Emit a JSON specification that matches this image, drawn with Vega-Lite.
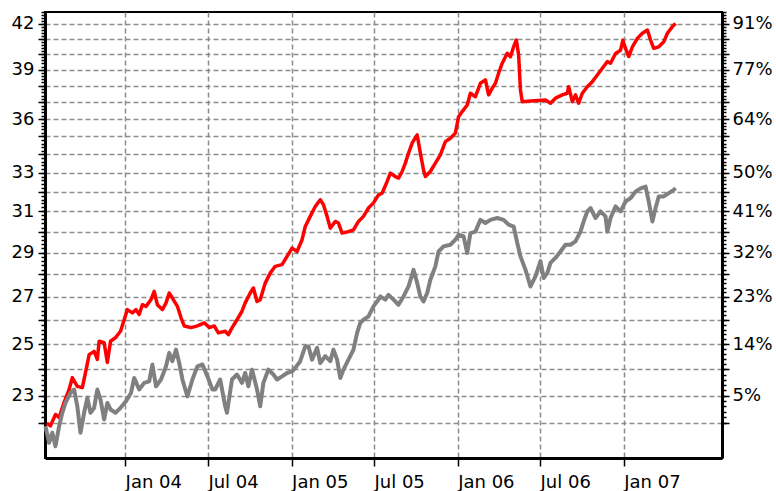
{
  "$schema": "https://vega.github.io/schema/vega-lite/v6.json",
  "width": 677,
  "height": 446,
  "autosize": "none",
  "padding": {"left": 45, "top": 12, "right": 54, "bottom": 33},
  "config": {
    "font": "DejaVu Sans",
    "view": {"stroke": "#000000", "strokeWidth": 2},
    "axis": {
      "labelFont": "DejaVu Sans",
      "labelFontSize": 18,
      "labelColor": "#000000",
      "tickColor": "#000000",
      "tickWidth": 1.5,
      "domainColor": "#000000",
      "domainWidth": 3,
      "gridColor": "#8c8c8c",
      "gridDash": [5, 3],
      "gridWidth": 1.5,
      "labelOverlap": false,
      "labelFlush": false,
      "title": null
    }
  },
  "data": {
    "values": [
      {"d": "2003-07-13", "s": "r", "v": 22.0},
      {"d": "2003-07-21", "s": "r", "v": 21.9},
      {"d": "2003-08-01", "s": "r", "v": 22.31},
      {"d": "2003-08-09", "s": "r", "v": 22.2},
      {"d": "2003-08-20", "s": "r", "v": 22.75},
      {"d": "2003-08-31", "s": "r", "v": 23.23},
      {"d": "2003-09-07", "s": "r", "v": 23.68},
      {"d": "2003-09-18", "s": "r", "v": 23.35},
      {"d": "2003-09-29", "s": "r", "v": 23.3},
      {"d": "2003-10-06", "s": "r", "v": 23.87},
      {"d": "2003-10-14", "s": "r", "v": 24.58},
      {"d": "2003-10-25", "s": "r", "v": 24.71},
      {"d": "2003-11-01", "s": "r", "v": 24.39},
      {"d": "2003-11-05", "s": "r", "v": 25.12},
      {"d": "2003-11-16", "s": "r", "v": 25.06},
      {"d": "2003-11-23", "s": "r", "v": 24.27},
      {"d": "2003-11-30", "s": "r", "v": 25.12},
      {"d": "2003-12-11", "s": "r", "v": 25.27},
      {"d": "2003-12-22", "s": "r", "v": 25.53},
      {"d": "2003-12-30", "s": "r", "v": 26.01},
      {"d": "2004-01-06", "s": "r", "v": 26.44},
      {"d": "2004-01-17", "s": "r", "v": 26.3},
      {"d": "2004-01-25", "s": "r", "v": 26.44},
      {"d": "2004-02-01", "s": "r", "v": 26.23},
      {"d": "2004-02-08", "s": "r", "v": 26.65},
      {"d": "2004-02-16", "s": "r", "v": 26.58},
      {"d": "2004-02-27", "s": "r", "v": 26.87},
      {"d": "2004-03-05", "s": "r", "v": 27.23},
      {"d": "2004-03-12", "s": "r", "v": 26.65},
      {"d": "2004-03-23", "s": "r", "v": 26.44},
      {"d": "2004-03-31", "s": "r", "v": 26.73},
      {"d": "2004-04-07", "s": "r", "v": 27.16},
      {"d": "2004-04-14", "s": "r", "v": 26.94},
      {"d": "2004-04-25", "s": "r", "v": 26.58},
      {"d": "2004-05-03", "s": "r", "v": 26.09},
      {"d": "2004-05-10", "s": "r", "v": 25.75},
      {"d": "2004-05-25", "s": "r", "v": 25.68},
      {"d": "2004-06-08", "s": "r", "v": 25.75},
      {"d": "2004-06-23", "s": "r", "v": 25.88},
      {"d": "2004-07-04", "s": "r", "v": 25.68},
      {"d": "2004-07-15", "s": "r", "v": 25.75},
      {"d": "2004-07-24", "s": "r", "v": 25.46},
      {"d": "2004-08-08", "s": "r", "v": 25.53},
      {"d": "2004-08-15", "s": "r", "v": 25.39},
      {"d": "2004-08-23", "s": "r", "v": 25.67},
      {"d": "2004-09-03", "s": "r", "v": 26.01},
      {"d": "2004-09-14", "s": "r", "v": 26.37},
      {"d": "2004-09-21", "s": "r", "v": 26.73},
      {"d": "2004-10-02", "s": "r", "v": 27.16},
      {"d": "2004-10-09", "s": "r", "v": 27.38},
      {"d": "2004-10-17", "s": "r", "v": 26.79},
      {"d": "2004-10-24", "s": "r", "v": 26.87},
      {"d": "2004-11-04", "s": "r", "v": 27.6},
      {"d": "2004-11-15", "s": "r", "v": 28.05},
      {"d": "2004-11-26", "s": "r", "v": 28.36},
      {"d": "2004-12-11", "s": "r", "v": 28.44},
      {"d": "2004-12-22", "s": "r", "v": 28.82},
      {"d": "2005-01-02", "s": "r", "v": 29.21},
      {"d": "2005-01-13", "s": "r", "v": 29.05},
      {"d": "2005-01-24", "s": "r", "v": 29.61},
      {"d": "2005-01-31", "s": "r", "v": 30.25},
      {"d": "2005-02-11", "s": "r", "v": 30.75},
      {"d": "2005-02-22", "s": "r", "v": 31.25},
      {"d": "2005-03-05", "s": "r", "v": 31.59},
      {"d": "2005-03-12", "s": "r", "v": 31.34},
      {"d": "2005-03-20", "s": "r", "v": 30.75},
      {"d": "2005-03-27", "s": "r", "v": 30.17},
      {"d": "2005-04-07", "s": "r", "v": 30.5},
      {"d": "2005-04-14", "s": "r", "v": 30.42},
      {"d": "2005-04-22", "s": "r", "v": 29.93},
      {"d": "2005-05-06", "s": "r", "v": 30.0},
      {"d": "2005-05-17", "s": "r", "v": 30.09},
      {"d": "2005-05-28", "s": "r", "v": 30.5},
      {"d": "2005-06-08", "s": "r", "v": 30.75},
      {"d": "2005-06-19", "s": "r", "v": 31.17},
      {"d": "2005-06-30", "s": "r", "v": 31.43},
      {"d": "2005-07-11", "s": "r", "v": 31.84},
      {"d": "2005-07-19", "s": "r", "v": 31.93},
      {"d": "2005-07-30", "s": "r", "v": 32.54},
      {"d": "2005-08-06", "s": "r", "v": 32.98},
      {"d": "2005-08-17", "s": "r", "v": 32.8},
      {"d": "2005-08-24", "s": "r", "v": 32.72},
      {"d": "2005-09-01", "s": "r", "v": 33.07},
      {"d": "2005-09-08", "s": "r", "v": 33.52},
      {"d": "2005-09-15", "s": "r", "v": 34.07},
      {"d": "2005-09-23", "s": "r", "v": 34.63},
      {"d": "2005-10-04", "s": "r", "v": 35.09},
      {"d": "2005-10-11", "s": "r", "v": 34.07},
      {"d": "2005-10-18", "s": "r", "v": 33.15},
      {"d": "2005-10-22", "s": "r", "v": 32.8},
      {"d": "2005-11-02", "s": "r", "v": 33.07},
      {"d": "2005-11-13", "s": "r", "v": 33.52},
      {"d": "2005-11-24", "s": "r", "v": 33.97},
      {"d": "2005-12-05", "s": "r", "v": 34.71},
      {"d": "2005-12-16", "s": "r", "v": 34.9},
      {"d": "2005-12-27", "s": "r", "v": 35.19},
      {"d": "2006-01-03", "s": "r", "v": 36.14},
      {"d": "2006-01-11", "s": "r", "v": 36.44},
      {"d": "2006-01-22", "s": "r", "v": 36.83},
      {"d": "2006-01-29", "s": "r", "v": 37.54},
      {"d": "2006-02-09", "s": "r", "v": 37.33},
      {"d": "2006-02-20", "s": "r", "v": 38.15},
      {"d": "2006-03-03", "s": "r", "v": 38.36},
      {"d": "2006-03-10", "s": "r", "v": 37.44},
      {"d": "2006-03-18", "s": "r", "v": 37.85},
      {"d": "2006-03-25", "s": "r", "v": 38.15},
      {"d": "2006-04-01", "s": "r", "v": 38.78},
      {"d": "2006-04-09", "s": "r", "v": 39.41},
      {"d": "2006-04-20", "s": "r", "v": 40.05},
      {"d": "2006-04-27", "s": "r", "v": 39.83},
      {"d": "2006-05-04", "s": "r", "v": 40.48},
      {"d": "2006-05-10", "s": "r", "v": 40.92},
      {"d": "2006-05-15", "s": "r", "v": 39.94},
      {"d": "2006-05-19", "s": "r", "v": 37.74},
      {"d": "2006-05-23", "s": "r", "v": 37.03},
      {"d": "2006-06-10", "s": "r", "v": 37.07},
      {"d": "2006-07-13", "s": "r", "v": 37.13},
      {"d": "2006-07-24", "s": "r", "v": 36.94},
      {"d": "2006-08-04", "s": "r", "v": 37.24},
      {"d": "2006-08-19", "s": "r", "v": 37.44},
      {"d": "2006-08-30", "s": "r", "v": 37.54},
      {"d": "2006-09-02", "s": "r", "v": 37.94},
      {"d": "2006-09-10", "s": "r", "v": 37.03},
      {"d": "2006-09-17", "s": "r", "v": 37.44},
      {"d": "2006-09-24", "s": "r", "v": 36.94},
      {"d": "2006-10-02", "s": "r", "v": 37.54},
      {"d": "2006-10-13", "s": "r", "v": 37.94},
      {"d": "2006-10-24", "s": "r", "v": 38.25},
      {"d": "2006-11-04", "s": "r", "v": 38.67},
      {"d": "2006-11-15", "s": "r", "v": 39.09},
      {"d": "2006-11-26", "s": "r", "v": 39.51},
      {"d": "2006-12-03", "s": "r", "v": 39.41},
      {"d": "2006-12-14", "s": "r", "v": 40.04},
      {"d": "2006-12-25", "s": "r", "v": 40.25},
      {"d": "2006-12-30", "s": "r", "v": 40.9},
      {"d": "2007-01-05", "s": "r", "v": 40.36},
      {"d": "2007-01-12", "s": "r", "v": 39.84},
      {"d": "2007-01-20", "s": "r", "v": 40.47},
      {"d": "2007-01-31", "s": "r", "v": 41.03},
      {"d": "2007-02-11", "s": "r", "v": 41.37},
      {"d": "2007-02-22", "s": "r", "v": 41.59},
      {"d": "2007-03-01", "s": "r", "v": 40.92},
      {"d": "2007-03-08", "s": "r", "v": 40.37},
      {"d": "2007-03-19", "s": "r", "v": 40.47},
      {"d": "2007-03-30", "s": "r", "v": 40.8},
      {"d": "2007-04-07", "s": "r", "v": 41.37},
      {"d": "2007-04-18", "s": "r", "v": 41.82},
      {"d": "2007-04-25", "s": "r", "v": 42.03},
      {"d": "2003-07-10", "s": "g", "v": 21.89},
      {"d": "2003-07-18", "s": "g", "v": 21.31},
      {"d": "2003-07-25", "s": "g", "v": 21.66},
      {"d": "2003-08-01", "s": "g", "v": 21.19},
      {"d": "2003-08-09", "s": "g", "v": 21.89},
      {"d": "2003-08-16", "s": "g", "v": 22.37},
      {"d": "2003-08-23", "s": "g", "v": 22.73},
      {"d": "2003-09-03", "s": "g", "v": 23.1},
      {"d": "2003-09-11", "s": "g", "v": 23.23},
      {"d": "2003-09-18", "s": "g", "v": 22.61},
      {"d": "2003-09-25", "s": "g", "v": 21.66},
      {"d": "2003-10-03", "s": "g", "v": 22.37},
      {"d": "2003-10-10", "s": "g", "v": 22.92},
      {"d": "2003-10-17", "s": "g", "v": 22.37},
      {"d": "2003-10-25", "s": "g", "v": 22.55},
      {"d": "2003-11-01", "s": "g", "v": 23.23},
      {"d": "2003-11-08", "s": "g", "v": 22.85},
      {"d": "2003-11-16", "s": "g", "v": 22.13},
      {"d": "2003-11-23", "s": "g", "v": 22.73},
      {"d": "2003-11-30", "s": "g", "v": 22.49},
      {"d": "2003-12-11", "s": "g", "v": 22.37},
      {"d": "2003-12-22", "s": "g", "v": 22.55},
      {"d": "2004-01-03", "s": "g", "v": 22.79},
      {"d": "2004-01-14", "s": "g", "v": 23.1},
      {"d": "2004-01-21", "s": "g", "v": 23.67},
      {"d": "2004-02-01", "s": "g", "v": 23.23},
      {"d": "2004-02-12", "s": "g", "v": 23.48},
      {"d": "2004-02-23", "s": "g", "v": 23.54},
      {"d": "2004-03-01", "s": "g", "v": 24.19},
      {"d": "2004-03-09", "s": "g", "v": 23.35},
      {"d": "2004-03-20", "s": "g", "v": 23.61},
      {"d": "2004-03-31", "s": "g", "v": 24.12},
      {"d": "2004-04-07", "s": "g", "v": 24.65},
      {"d": "2004-04-14", "s": "g", "v": 24.32},
      {"d": "2004-04-22", "s": "g", "v": 24.78},
      {"d": "2004-04-29", "s": "g", "v": 24.25},
      {"d": "2004-05-06", "s": "g", "v": 23.61},
      {"d": "2004-05-17", "s": "g", "v": 22.97},
      {"d": "2004-05-28", "s": "g", "v": 23.61},
      {"d": "2004-06-08", "s": "g", "v": 24.12},
      {"d": "2004-06-19", "s": "g", "v": 24.19},
      {"d": "2004-06-30", "s": "g", "v": 23.73},
      {"d": "2004-07-11", "s": "g", "v": 23.23},
      {"d": "2004-07-17", "s": "g", "v": 23.23},
      {"d": "2004-07-28", "s": "g", "v": 23.61},
      {"d": "2004-08-08", "s": "g", "v": 22.61},
      {"d": "2004-08-12", "s": "g", "v": 22.37},
      {"d": "2004-08-23", "s": "g", "v": 23.61},
      {"d": "2004-09-03", "s": "g", "v": 23.8},
      {"d": "2004-09-14", "s": "g", "v": 23.48},
      {"d": "2004-09-21", "s": "g", "v": 23.86},
      {"d": "2004-09-28", "s": "g", "v": 23.35},
      {"d": "2004-10-06", "s": "g", "v": 23.99},
      {"d": "2004-10-17", "s": "g", "v": 23.23},
      {"d": "2004-10-24", "s": "g", "v": 22.61},
      {"d": "2004-10-31", "s": "g", "v": 23.48},
      {"d": "2004-11-11", "s": "g", "v": 23.99},
      {"d": "2004-11-22", "s": "g", "v": 23.8},
      {"d": "2004-11-30", "s": "g", "v": 23.61},
      {"d": "2004-12-11", "s": "g", "v": 23.73},
      {"d": "2004-12-22", "s": "g", "v": 23.86},
      {"d": "2005-01-02", "s": "g", "v": 23.92},
      {"d": "2005-01-09", "s": "g", "v": 24.06},
      {"d": "2005-01-20", "s": "g", "v": 24.32},
      {"d": "2005-01-31", "s": "g", "v": 24.91},
      {"d": "2005-02-07", "s": "g", "v": 24.91},
      {"d": "2005-02-15", "s": "g", "v": 24.38},
      {"d": "2005-02-26", "s": "g", "v": 24.85},
      {"d": "2005-03-05", "s": "g", "v": 24.25},
      {"d": "2005-03-16", "s": "g", "v": 24.52},
      {"d": "2005-03-27", "s": "g", "v": 24.32},
      {"d": "2005-04-03", "s": "g", "v": 24.78},
      {"d": "2005-04-11", "s": "g", "v": 24.38},
      {"d": "2005-04-18", "s": "g", "v": 23.67},
      {"d": "2005-04-25", "s": "g", "v": 23.99},
      {"d": "2005-05-06", "s": "g", "v": 24.38},
      {"d": "2005-05-17", "s": "g", "v": 24.78},
      {"d": "2005-05-25", "s": "g", "v": 25.46},
      {"d": "2005-06-01", "s": "g", "v": 25.88},
      {"d": "2005-06-08", "s": "g", "v": 26.01},
      {"d": "2005-06-19", "s": "g", "v": 26.15},
      {"d": "2005-06-30", "s": "g", "v": 26.58},
      {"d": "2005-07-11", "s": "g", "v": 26.87},
      {"d": "2005-07-15", "s": "g", "v": 27.01},
      {"d": "2005-07-26", "s": "g", "v": 26.87},
      {"d": "2005-08-02", "s": "g", "v": 27.08},
      {"d": "2005-08-13", "s": "g", "v": 26.87},
      {"d": "2005-08-24", "s": "g", "v": 26.65},
      {"d": "2005-09-04", "s": "g", "v": 27.01},
      {"d": "2005-09-15", "s": "g", "v": 27.45},
      {"d": "2005-09-26", "s": "g", "v": 28.2},
      {"d": "2005-10-04", "s": "g", "v": 27.61},
      {"d": "2005-10-11", "s": "g", "v": 27.01},
      {"d": "2005-10-18", "s": "g", "v": 26.79},
      {"d": "2005-10-26", "s": "g", "v": 27.16},
      {"d": "2005-11-02", "s": "g", "v": 27.75},
      {"d": "2005-11-13", "s": "g", "v": 28.36},
      {"d": "2005-11-20", "s": "g", "v": 29.05},
      {"d": "2005-12-01", "s": "g", "v": 29.29},
      {"d": "2005-12-16", "s": "g", "v": 29.37},
      {"d": "2005-12-27", "s": "g", "v": 29.61},
      {"d": "2006-01-03", "s": "g", "v": 29.85},
      {"d": "2006-01-14", "s": "g", "v": 29.77},
      {"d": "2006-01-22", "s": "g", "v": 28.98},
      {"d": "2006-01-29", "s": "g", "v": 29.93},
      {"d": "2006-02-09", "s": "g", "v": 30.0},
      {"d": "2006-02-20", "s": "g", "v": 30.58},
      {"d": "2006-03-03", "s": "g", "v": 30.42},
      {"d": "2006-03-14", "s": "g", "v": 30.58},
      {"d": "2006-03-29", "s": "g", "v": 30.67},
      {"d": "2006-04-12", "s": "g", "v": 30.58},
      {"d": "2006-04-23", "s": "g", "v": 30.34},
      {"d": "2006-05-04", "s": "g", "v": 30.25},
      {"d": "2006-05-12", "s": "g", "v": 29.45},
      {"d": "2006-05-19", "s": "g", "v": 28.82},
      {"d": "2006-05-30", "s": "g", "v": 28.21},
      {"d": "2006-06-10", "s": "g", "v": 27.45},
      {"d": "2006-06-21", "s": "g", "v": 27.9},
      {"d": "2006-07-02", "s": "g", "v": 28.6},
      {"d": "2006-07-09", "s": "g", "v": 27.83},
      {"d": "2006-07-17", "s": "g", "v": 28.05},
      {"d": "2006-07-24", "s": "g", "v": 28.52},
      {"d": "2006-08-04", "s": "g", "v": 28.75},
      {"d": "2006-08-15", "s": "g", "v": 29.05},
      {"d": "2006-08-26", "s": "g", "v": 29.37},
      {"d": "2006-09-06", "s": "g", "v": 29.37},
      {"d": "2006-09-17", "s": "g", "v": 29.53},
      {"d": "2006-09-28", "s": "g", "v": 30.0},
      {"d": "2006-10-05", "s": "g", "v": 30.5},
      {"d": "2006-10-13", "s": "g", "v": 31.0},
      {"d": "2006-10-20", "s": "g", "v": 31.17},
      {"d": "2006-10-31", "s": "g", "v": 30.67},
      {"d": "2006-11-11", "s": "g", "v": 31.0},
      {"d": "2006-11-22", "s": "g", "v": 30.75},
      {"d": "2006-11-26", "s": "g", "v": 30.0},
      {"d": "2006-12-03", "s": "g", "v": 30.67},
      {"d": "2006-12-14", "s": "g", "v": 31.25},
      {"d": "2006-12-25", "s": "g", "v": 31.0},
      {"d": "2007-01-05", "s": "g", "v": 31.5},
      {"d": "2007-01-16", "s": "g", "v": 31.67},
      {"d": "2007-01-27", "s": "g", "v": 32.01},
      {"d": "2007-02-07", "s": "g", "v": 32.18},
      {"d": "2007-02-18", "s": "g", "v": 32.27},
      {"d": "2007-02-25", "s": "g", "v": 31.5},
      {"d": "2007-03-05", "s": "g", "v": 30.5},
      {"d": "2007-03-12", "s": "g", "v": 31.17},
      {"d": "2007-03-19", "s": "g", "v": 31.76},
      {"d": "2007-03-30", "s": "g", "v": 31.76},
      {"d": "2007-04-10", "s": "g", "v": 31.93},
      {"d": "2007-04-21", "s": "g", "v": 32.1},
      {"d": "2007-04-25", "s": "g", "v": 32.19}
    ]
  },
  "layer": [
    {
      "mark": {"type": "line", "strokeJoin": "round"},
      "encoding": {
        "x": {
          "field": "d",
          "type": "temporal",
          "scale": {
            "type": "utc",
            "domain": [
              {"year": 2003, "month": 7, "date": 9, "utc": true},
              {"year": 2007, "month": 8, "date": 5, "utc": true}
            ]
          },
          "axis": {
            "values": [
              {"year": 2004, "month": 1, "date": 1, "utc": true},
              {"year": 2004, "month": 7, "date": 1, "utc": true},
              {"year": 2005, "month": 1, "date": 1, "utc": true},
              {"year": 2005, "month": 7, "date": 1, "utc": true},
              {"year": 2006, "month": 1, "date": 1, "utc": true},
              {"year": 2006, "month": 7, "date": 1, "utc": true},
              {"year": 2007, "month": 1, "date": 1, "utc": true}
            ],
            "format": "%b %y",
            "grid": true,
            "tickSize": 8,
            "labelAlign": "left",
            "labelPadding": 7
          }
        },
        "y": {
          "field": "v",
          "type": "quantitative",
          "scale": {"type": "log", "domain": [20.79, 42.82], "nice": false},
          "axis": {
            "orient": "left",
            "values": [22, 23, 24, 25, 26, 27, 28, 29, 30, 31, 32, 33, 34, 35, 36, 37, 38, 39, 40, 41, 42],
            "grid": true,
            "tickSize": 7,
            "labelPadding": 4,
            "labelExpr": "indexof([23,25,27,29,31,33,36,39,42], datum.value) >= 0 ? format(datum.value, 'd') : ''"
          }
        },
        "color": {
          "field": "s",
          "type": "nominal",
          "scale": {"domain": ["g", "r"], "range": ["#808080", "#ff0000"]},
          "legend": null
        },
        "strokeWidth": {
          "field": "s",
          "type": "nominal",
          "scale": {"domain": ["g", "r"], "range": [4, 3.5]},
          "legend": null
        }
      }
    },
    {
      "mark": {"type": "line", "opacity": 0},
      "encoding": {
        "y": {
          "field": "v",
          "type": "quantitative",
          "axis": {
            "orient": "right",
            "values": [22, 23, 24, 25, 26, 27, 28, 29, 30, 31, 32, 33, 34, 35, 36, 37, 38, 39, 40, 41, 42],
            "grid": false,
            "tickSize": 7,
            "labelPadding": 3,
            "labelExpr": "indexof([23,25,27,29,31,33,36,39,42], datum.value) >= 0 ? format(datum.value / 22 - 1, '.0%') : ''"
          }
        },
        "detail": {"field": "s"}
      }
    },
    {
      "mark": {"type": "line", "opacity": 0},
      "encoding": {
        "y": {
          "field": "v",
          "type": "quantitative",
          "axis": {
            "orient": "left",
            "values": [22, 22.2, 22.4, 22.6, 22.8, 23, 23.2, 23.4, 23.6, 23.8, 24, 24.2, 24.4, 24.6, 24.8, 25, 25.2, 25.4, 25.6, 25.8, 26, 26.2, 26.4, 26.6, 26.8, 27, 27.2, 27.4, 27.6, 27.8, 28, 28.2, 28.4, 28.6, 28.8, 29, 29.2, 29.4, 29.6, 29.8, 30, 30.2, 30.4, 30.6, 30.8, 31, 31.2, 31.4, 31.6, 31.8, 32, 32.2, 32.4, 32.6, 32.8, 33, 33.2, 33.4, 33.6, 33.8, 34, 34.2, 34.4, 34.6, 34.8, 35, 35.2, 35.4, 35.6, 35.8, 36, 36.2, 36.4, 36.6, 36.8, 37, 37.2, 37.4, 37.6, 37.8, 38, 38.2, 38.4, 38.6, 38.8, 39, 39.2, 39.4, 39.6, 39.8, 40, 40.2, 40.4, 40.6, 40.8, 41, 41.2, 41.4, 41.6, 41.8, 42, 42.2, 42.4, 42.6, 42.8],
            "grid": false,
            "domain": false,
            "labels": false,
            "tickSize": 4
          }
        },
        "detail": {"field": "s"}
      }
    },
    {
      "mark": {"type": "line", "opacity": 0},
      "encoding": {
        "y": {
          "field": "v",
          "type": "quantitative",
          "axis": {
            "orient": "right",
            "values": [22, 22.2, 22.4, 22.6, 22.8, 23, 23.2, 23.4, 23.6, 23.8, 24, 24.2, 24.4, 24.6, 24.8, 25, 25.2, 25.4, 25.6, 25.8, 26, 26.2, 26.4, 26.6, 26.8, 27, 27.2, 27.4, 27.6, 27.8, 28, 28.2, 28.4, 28.6, 28.8, 29, 29.2, 29.4, 29.6, 29.8, 30, 30.2, 30.4, 30.6, 30.8, 31, 31.2, 31.4, 31.6, 31.8, 32, 32.2, 32.4, 32.6, 32.8, 33, 33.2, 33.4, 33.6, 33.8, 34, 34.2, 34.4, 34.6, 34.8, 35, 35.2, 35.4, 35.6, 35.8, 36, 36.2, 36.4, 36.6, 36.8, 37, 37.2, 37.4, 37.6, 37.8, 38, 38.2, 38.4, 38.6, 38.8, 39, 39.2, 39.4, 39.6, 39.8, 40, 40.2, 40.4, 40.6, 40.8, 41, 41.2, 41.4, 41.6, 41.8, 42, 42.2, 42.4, 42.6, 42.8],
            "grid": false,
            "domain": false,
            "labels": false,
            "tickSize": 4
          }
        },
        "detail": {"field": "s"}
      }
    }
  ],
  "resolve": {"scale": {"y": "shared"}, "axis": {"y": "independent"}}
}
